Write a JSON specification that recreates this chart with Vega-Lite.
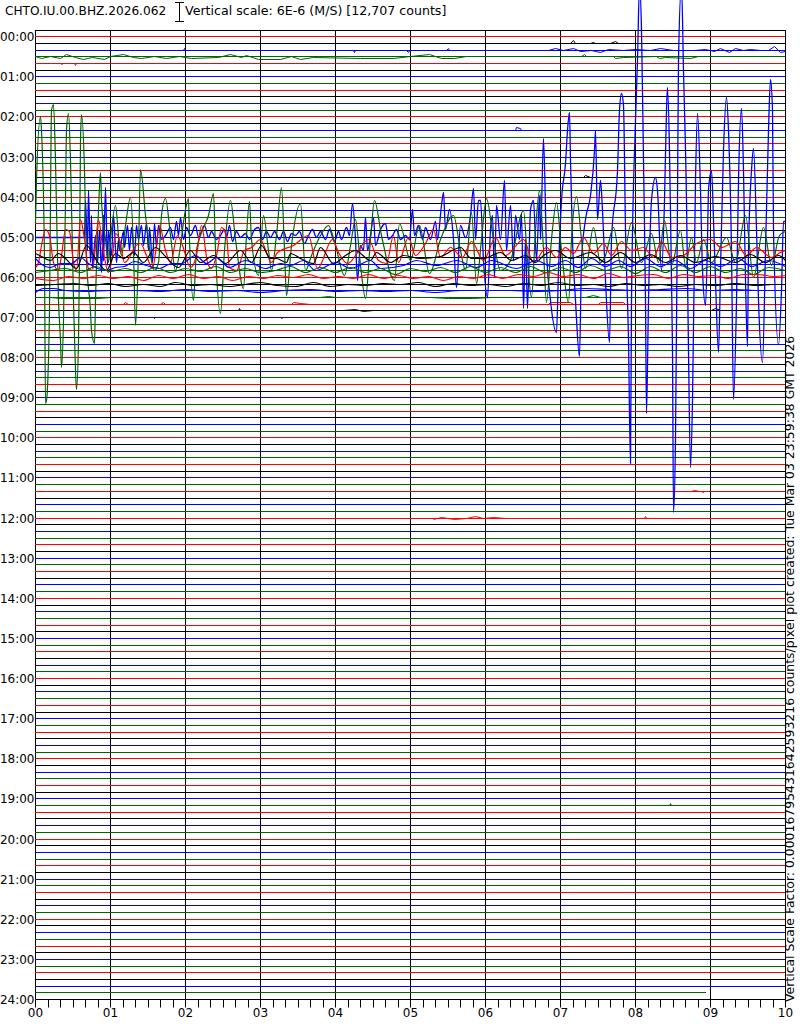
{"$schema":"https://vega.github.io/schema/vega-lite/v6.json","width":750,"height":969,"autosize":{"type":"none"},"padding":{"left":35,"top":30,"right":15,"bottom":25},"background":"white","config":{"view":{"stroke":"#000","strokeWidth":1},"font":"DejaVu Sans"},
"datasets":{
"minutes":[{"s":0},{"s":60},{"s":120},{"s":180},{"s":240},{"s":300},{"s":360},{"s":420},{"s":480},{"s":540},{"s":600}],
"rows":[{"m":0,"c":"red"},{"m":10,"c":"black"},{"m":20,"c":"blue"},{"m":30,"c":"green"},{"m":40,"c":"red"},{"m":50,"c":"black"},{"m":60,"c":"blue"},{"m":70,"c":"green"},{"m":80,"c":"red"},{"m":90,"c":"black"},{"m":100,"c":"blue"},{"m":110,"c":"green"},{"m":120,"c":"red"},{"m":130,"c":"black"},{"m":140,"c":"blue"},{"m":150,"c":"green"},{"m":160,"c":"red"},{"m":170,"c":"black"},{"m":180,"c":"blue"},{"m":190,"c":"green"},{"m":200,"c":"red"},{"m":210,"c":"black"},{"m":220,"c":"blue"},{"m":230,"c":"green"},{"m":240,"c":"red"},{"m":250,"c":"black"},{"m":260,"c":"blue"},{"m":270,"c":"green"},{"m":280,"c":"red"},{"m":290,"c":"black"},{"m":300,"c":"blue"},{"m":310,"c":"green"},{"m":320,"c":"red"},{"m":330,"c":"black"},{"m":340,"c":"blue"},{"m":350,"c":"green"},{"m":360,"c":"red"},{"m":370,"c":"black"},{"m":380,"c":"blue"},{"m":390,"c":"green"},{"m":400,"c":"red"},{"m":410,"c":"black"},{"m":420,"c":"blue"},{"m":430,"c":"green"},{"m":440,"c":"red"},{"m":450,"c":"black"},{"m":460,"c":"blue"},{"m":470,"c":"green"},{"m":480,"c":"red"},{"m":490,"c":"black"},{"m":500,"c":"blue"},{"m":510,"c":"green"},{"m":520,"c":"red"},{"m":530,"c":"black"},{"m":540,"c":"blue"},{"m":550,"c":"green"},{"m":560,"c":"red"},{"m":570,"c":"black"},{"m":580,"c":"blue"},{"m":590,"c":"green"},{"m":600,"c":"red"},{"m":610,"c":"black"},{"m":620,"c":"blue"},{"m":630,"c":"green"},{"m":640,"c":"red"},{"m":650,"c":"black"},{"m":660,"c":"blue"},{"m":670,"c":"green"},{"m":680,"c":"red"},{"m":690,"c":"black"},{"m":700,"c":"blue"},{"m":710,"c":"green"},{"m":720,"c":"red"},{"m":730,"c":"black"},{"m":740,"c":"blue"},{"m":750,"c":"green"},{"m":760,"c":"red"},{"m":770,"c":"black"},{"m":780,"c":"blue"},{"m":790,"c":"green"},{"m":800,"c":"red"},{"m":810,"c":"black"},{"m":820,"c":"blue"},{"m":830,"c":"green"},{"m":840,"c":"red"},{"m":850,"c":"black"},{"m":860,"c":"blue"},{"m":870,"c":"green"},{"m":880,"c":"red"},{"m":890,"c":"black"},{"m":900,"c":"blue"},{"m":910,"c":"green"},{"m":920,"c":"red"},{"m":930,"c":"black"},{"m":940,"c":"blue"},{"m":950,"c":"green"},{"m":960,"c":"red"},{"m":970,"c":"black"},{"m":980,"c":"blue"},{"m":990,"c":"green"},{"m":1000,"c":"red"},{"m":1010,"c":"black"},{"m":1020,"c":"blue"},{"m":1030,"c":"green"},{"m":1040,"c":"red"},{"m":1050,"c":"black"},{"m":1060,"c":"blue"},{"m":1070,"c":"green"},{"m":1080,"c":"red"},{"m":1090,"c":"black"},{"m":1100,"c":"blue"},{"m":1110,"c":"green"},{"m":1120,"c":"red"},{"m":1130,"c":"black"},{"m":1140,"c":"blue"},{"m":1150,"c":"green"},{"m":1160,"c":"red"},{"m":1170,"c":"black"},{"m":1180,"c":"blue"},{"m":1190,"c":"green"},{"m":1200,"c":"red"},{"m":1210,"c":"black"},{"m":1220,"c":"blue"},{"m":1230,"c":"green"},{"m":1240,"c":"red"},{"m":1250,"c":"black"},{"m":1260,"c":"blue"},{"m":1270,"c":"green"},{"m":1280,"c":"red"},{"m":1290,"c":"black"},{"m":1300,"c":"blue"},{"m":1310,"c":"green"},{"m":1320,"c":"red"},{"m":1330,"c":"black"},{"m":1340,"c":"blue"},{"m":1350,"c":"green"},{"m":1360,"c":"red"},{"m":1370,"c":"black"},{"m":1380,"c":"blue"},{"m":1390,"c":"green"},{"m":1400,"c":"red"},{"m":1410,"c":"black"},{"m":1420,"c":"blue"}],
"lastRow":[{"s":0,"e":537,"m":1430}],
"b300":[{"s":0,"m":300},{"s":38.8,"m":300},{"s":40.4,"m":245},{"s":41.2,"m":319},{"s":42,"m":230},{"s":43.6,"m":337},{"s":44.4,"m":267},{"s":46,"m":346},{"s":47.6,"m":297},{"s":49.2,"m":337},{"s":50.8,"m":290},{"s":52.4,"m":352},{"s":54,"m":267},{"s":54.8,"m":334},{"s":55.6,"m":225},{"s":57.2,"m":342},{"s":58.8,"m":290},{"s":60.4,"m":327},{"s":62,"m":267},{"s":64.4,"m":337},{"s":66,"m":304},{"s":67.6,"m":319},{"s":70,"m":292},{"s":71.6,"m":316},{"s":73.2,"m":283},{"s":74.8,"m":319},{"s":76.4,"m":286},{"s":78.8,"m":327},{"s":80.4,"m":282},{"s":82.8,"m":304},{"s":84.4,"m":282},{"s":86,"m":312},{"s":88.4,"m":280},{"s":90,"m":319},{"s":91.6,"m":286},{"s":93.2,"m":337},{"s":94.8,"m":280},{"s":96.4,"m":316},{"s":98,"m":283},{"s":100.4,"m":304},{"s":103.6,"m":297},{"s":107.6,"m":286},{"s":110,"m":304},{"s":112.4,"m":277},{"s":114,"m":297},{"s":115.6,"m":271},{"s":118,"m":304},{"s":120.4,"m":286},{"s":123.6,"m":297},{"s":127.6,"m":283},{"s":130,"m":301},{"s":132.4,"m":292},{"s":135.6,"m":282},{"s":138,"m":301},{"s":141.2,"m":292},{"s":144.4,"m":304},{"s":147.6,"m":298},{"s":150.8,"m":289},{"s":153.2,"m":301},{"s":155.6,"m":282},{"s":158,"m":307},{"s":160.4,"m":292},{"s":163.6,"m":301},{"s":167.6,"m":294},{"s":171.6,"m":304},{"s":174.8,"m":289},{"s":178,"m":286},{"s":181.2,"m":304},{"s":184.4,"m":292},{"s":187.6,"m":301},{"s":191.6,"m":292},{"s":194.8,"m":304},{"s":198,"m":292},{"s":201.2,"m":307},{"s":204.4,"m":294},{"s":207.6,"m":298},{"s":210.8,"m":292},{"s":214.8,"m":309},{"s":218,"m":298},{"s":221.2,"m":289},{"s":224.4,"m":301},{"s":227.6,"m":292},{"s":231.6,"m":304},{"s":234.8,"m":289},{"s":238.8,"m":307},{"s":242,"m":292},{"s":245.2,"m":304},{"s":248.4,"m":286},{"s":250.8,"m":297},{"s":253.2,"m":249},{"s":255.6,"m":304},{"s":257.2,"m":364},{"s":259.6,"m":312},{"s":262,"m":319},{"s":263.6,"m":270},{"s":265.2,"m":319},{"s":267.6,"m":297},{"s":270,"m":270},{"s":272.4,"m":312},{"s":275.6,"m":289},{"s":279.6,"m":280},{"s":282,"m":304},{"s":285.2,"m":297},{"s":288.4,"m":289},{"s":291.6,"m":304},{"s":295.6,"m":297},{"s":298.8,"m":304},{"s":301.2,"m":259},{"s":302.8,"m":297},{"s":306,"m":282},{"s":309.2,"m":304},{"s":312.4,"m":286},{"s":315.6,"m":304},{"s":319.6,"m":277},{"s":322,"m":304},{"s":324.4,"m":252},{"s":326,"m":233},{"s":327.6,"m":289},{"s":330.8,"m":259},{"s":334,"m":304},{"s":337.2,"m":375},{"s":339.6,"m":282},{"s":343.6,"m":301},{"s":347.6,"m":267},{"s":350,"m":227},{"s":351.6,"m":304},{"s":354,"m":245},{"s":355.6,"m":245},{"s":358,"m":334},{"s":361.2,"m":390},{"s":363.6,"m":289},{"s":365.2,"m":267},{"s":366.8,"m":360},{"s":369.2,"m":252},{"s":372,"m":304},{"s":374.8,"m":215},{"s":376.4,"m":319},{"s":379.6,"m":252},{"s":382,"m":334},{"s":384.4,"m":267},{"s":386.8,"m":304},{"s":389.2,"m":264},{"s":390,"m":406},{"s":391.6,"m":304},{"s":394,"m":406},{"s":396.4,"m":259},{"s":398,"m":245},{"s":400.4,"m":334},{"s":402.8,"m":237},{"s":404.4,"m":304},{"s":406,"m":152},{"s":408.4,"m":319},{"s":412.4,"m":394},{"s":417,"m":442},{"s":418.4,"m":349},{"s":421,"m":245},{"s":423.6,"m":189},{"s":425.2,"m":140},{"s":426.8,"m":113},{"s":427.6,"m":185},{"s":429.2,"m":304},{"s":431.6,"m":394},{"s":434.8,"m":479},{"s":436.4,"m":334},{"s":439.6,"m":274},{"s":443.6,"m":237},{"s":446.8,"m":170},{"s":447.6,"m":141},{"s":449.2,"m":274},{"s":451.6,"m":215},{"s":453.2,"m":260},{"s":455.6,"m":364},{"s":458.8,"m":457},{"s":460.4,"m":304},{"s":465.2,"m":200},{"s":466.8,"m":110},{"s":468.4,"m":85},{"s":470,"m":103},{"s":471.6,"m":289},{"s":474,"m":454},{"s":476,"m":638},{"s":477,"m":394},{"s":479.6,"m":125},{"s":481.2,"m":35},{"s":482.8,"m":-77},{"s":484.4,"m":-9},{"s":486,"m":185},{"s":487.6,"m":394},{"s":489,"m":563},{"s":490,"m":394},{"s":492.4,"m":245},{"s":495.6,"m":210},{"s":497.2,"m":230},{"s":500.4,"m":349},{"s":502.8,"m":245},{"s":504.4,"m":110},{"s":505.8,"m":76},{"s":506.8,"m":170},{"s":508.4,"m":364},{"s":509.2,"m":469},{"s":510.6,"m":712},{"s":511.6,"m":603},{"s":513.2,"m":245},{"s":514.8,"m":35},{"s":517,"m":-77},{"s":518.8,"m":50},{"s":520.4,"m":245},{"s":522,"m":469},{"s":524.2,"m":645},{"s":525.2,"m":544},{"s":527.6,"m":215},{"s":529.8,"m":115},{"s":531.6,"m":230},{"s":533.2,"m":349},{"s":535.6,"m":402},{"s":537.2,"m":304},{"s":538.8,"m":230},{"s":540.4,"m":200},{"s":542,"m":274},{"s":543.6,"m":364},{"s":546,"m":472},{"s":547.6,"m":349},{"s":550,"m":170},{"s":552.4,"m":91},{"s":554,"m":140},{"s":556.4,"m":319},{"s":558.8,"m":542},{"s":560.4,"m":394},{"s":562,"m":215},{"s":564.4,"m":107},{"s":566,"m":200},{"s":567.6,"m":364},{"s":569.2,"m":463},{"s":570.8,"m":319},{"s":572.4,"m":200},{"s":574,"m":167},{"s":576.4,"m":289},{"s":578.8,"m":394},{"s":581.2,"m":487},{"s":583.6,"m":319},{"s":586,"m":140},{"s":587.6,"m":64},{"s":589.2,"m":110},{"s":590.8,"m":289},{"s":594,"m":461},{"s":596.4,"m":379},{"s":598.8,"m":277},{"s":600,"m":277}],
"g310":[{"s":0,"m":279},{"s":1,"m":215},{"s":4,"m":119},{"s":4.6,"m":140},{"s":7,"m":334},{"s":8,"m":548},{"s":9,"m":544},{"s":11,"m":409},{"s":12,"m":245},{"s":13,"m":110},{"s":14,"m":101},{"s":16,"m":185},{"s":18,"m":394},{"s":20,"m":454},{"s":21,"m":494},{"s":22,"m":424},{"s":24,"m":245},{"s":25,"m":140},{"s":26,"m":115},{"s":28,"m":185},{"s":30,"m":394},{"s":32,"m":499},{"s":33,"m":527},{"s":34,"m":454},{"s":35,"m":334},{"s":36,"m":155},{"s":37,"m":116},{"s":39,"m":200},{"s":41,"m":334},{"s":44,"m":409},{"s":45,"m":439},{"s":47,"m":459},{"s":48,"m":394},{"s":50,"m":260},{"s":52,"m":203},{"s":53,"m":245},{"s":56,"m":304},{"s":58,"m":337},{"s":60,"m":304},{"s":64,"m":252},{"s":66,"m":297},{"s":69,"m":327},{"s":72,"m":282},{"s":76,"m":240},{"s":78,"m":319},{"s":80,"m":432},{"s":82,"m":319},{"s":84,"m":198},{"s":88,"m":267},{"s":92,"m":327},{"s":95,"m":349},{"s":98,"m":337},{"s":101,"m":267},{"s":104,"m":242},{"s":108,"m":297},{"s":112,"m":349},{"s":116,"m":312},{"s":119,"m":267},{"s":122,"m":242},{"s":123,"m":304},{"s":126,"m":394},{"s":129,"m":319},{"s":133,"m":293},{"s":138,"m":267},{"s":142,"m":234},{"s":144,"m":319},{"s":148,"m":414},{"s":151,"m":319},{"s":156,"m":245},{"s":160,"m":304},{"s":166,"m":376},{"s":169,"m":297},{"s":171,"m":247},{"s":173,"m":304},{"s":178,"m":357},{"s":182,"m":267},{"s":186,"m":319},{"s":189,"m":349},{"s":193,"m":297},{"s":197,"m":225},{"s":199,"m":319},{"s":201,"m":387},{"s":205,"m":312},{"s":212,"m":249},{"s":216,"m":349},{"s":221,"m":327},{"s":228,"m":297},{"s":234,"m":282},{"s":240,"m":312},{"s":247,"m":357},{"s":252,"m":312},{"s":256,"m":274},{"s":260,"m":342},{"s":264,"m":391},{"s":268,"m":304},{"s":271,"m":245},{"s":277,"m":297},{"s":287,"m":364},{"s":291,"m":279},{"s":300,"m":334},{"s":307,"m":282},{"s":315,"m":354},{"s":324,"m":304},{"s":334,"m":267},{"s":340,"m":319},{"s":344,"m":349},{"s":349,"m":263},{"s":353,"m":369},{"s":357,"m":304},{"s":361,"m":242},{"s":366,"m":304},{"s":372,"m":349},{"s":380,"m":334},{"s":390,"m":260},{"s":394,"m":334},{"s":397,"m":390},{"s":400,"m":290},{"s":403,"m":230},{"s":406,"m":319},{"s":409,"m":397},{"s":413,"m":304},{"s":417,"m":248},{"s":421,"m":319},{"s":426,"m":397},{"s":429,"m":304},{"s":433,"m":239},{"s":437,"m":304},{"s":440,"m":346},{"s":446,"m":285},{"s":452,"m":337},{"s":456,"m":327},{"s":462,"m":285},{"s":469,"m":346},{"s":477,"m":278},{"s":485,"m":337},{"s":493,"m":294},{"s":498,"m":337},{"s":503,"m":275},{"s":509,"m":342},{"s":516,"m":290},{"s":520,"m":342},{"s":525,"m":300},{"s":529,"m":337},{"s":534,"m":303},{"s":541,"m":337},{"s":553,"m":300},{"s":560,"m":337},{"s":568,"m":267},{"s":574,"m":360},{"s":582,"m":285},{"s":589,"m":342},{"s":595,"m":297},{"s":600,"m":292}],
"r320":[{"s":0,"m":345},{"s":2,"m":337},{"s":4.4,"m":312},{"s":7.6,"m":289},{"s":10.8,"m":297},{"s":14,"m":337},{"s":18,"m":349},{"s":21,"m":327},{"s":23.6,"m":289},{"s":26.8,"m":292},{"s":30,"m":337},{"s":32.4,"m":349},{"s":35.6,"m":274},{"s":38.8,"m":304},{"s":42,"m":346},{"s":45.2,"m":349},{"s":50,"m":274},{"s":53.2,"m":312},{"s":58,"m":352},{"s":61.2,"m":327},{"s":63.6,"m":294},{"s":66.8,"m":304},{"s":70.8,"m":337},{"s":75.6,"m":327},{"s":79.6,"m":316},{"s":83.6,"m":309},{"s":88.4,"m":327},{"s":93.2,"m":346},{"s":96.4,"m":312},{"s":99.6,"m":282},{"s":103.6,"m":319},{"s":107.6,"m":337},{"s":113.2,"m":297},{"s":117.2,"m":312},{"s":123.6,"m":345},{"s":128.4,"m":327},{"s":133.2,"m":282},{"s":137.2,"m":337},{"s":141.2,"m":346},{"s":145.2,"m":319},{"s":149.2,"m":285},{"s":152.4,"m":297},{"s":155.6,"m":345},{"s":160.4,"m":349},{"s":166.8,"m":319},{"s":173.2,"m":316},{"s":179.6,"m":304},{"s":184.4,"m":322},{"s":189.2,"m":337},{"s":194,"m":322},{"s":206,"m":312},{"s":218,"m":297},{"s":225.2,"m":346},{"s":237.2,"m":304},{"s":242,"m":322},{"s":249.2,"m":339},{"s":266,"m":304},{"s":274,"m":334},{"s":281.2,"m":339},{"s":286,"m":297},{"s":290,"m":337},{"s":298,"m":300},{"s":303.6,"m":327},{"s":311.6,"m":309},{"s":318,"m":289},{"s":323.6,"m":330},{"s":331.6,"m":315},{"s":341.2,"m":330},{"s":349.2,"m":307},{"s":358,"m":334},{"s":367.6,"m":300},{"s":375.6,"m":327},{"s":390,"m":304},{"s":398,"m":337},{"s":409,"m":316},{"s":417,"m":330},{"s":423.6,"m":315},{"s":430,"m":324},{"s":438,"m":301},{"s":446,"m":324},{"s":454,"m":309},{"s":461,"m":327},{"s":469,"m":307},{"s":477,"m":319},{"s":486,"m":315},{"s":494,"m":330},{"s":501,"m":307},{"s":509,"m":330},{"s":518,"m":327},{"s":529,"m":309},{"s":540,"m":303},{"s":549,"m":316},{"s":560,"m":307},{"s":569,"m":327},{"s":577,"m":315},{"s":589,"m":330},{"s":596,"m":322},{"s":600,"m":319}],
"k330":[{"s":0,"m":324},{"s":5,"m":328},{"s":11.6,"m":334},{"s":18,"m":324},{"s":24.4,"m":331},{"s":33,"m":346},{"s":41,"m":312},{"s":49,"m":334},{"s":57,"m":349},{"s":64,"m":324},{"s":70,"m":331},{"s":78,"m":322},{"s":86,"m":337},{"s":96,"m":316},{"s":104,"m":328},{"s":114,"m":345},{"s":124,"m":319},{"s":132,"m":337},{"s":142,"m":327},{"s":152,"m":339},{"s":164,"m":319},{"s":173,"m":337},{"s":181,"m":312},{"s":188,"m":331},{"s":193,"m":331},{"s":201,"m":337},{"s":204,"m":324},{"s":212,"m":331},{"s":222,"m":339},{"s":228,"m":316},{"s":238,"m":339},{"s":248,"m":327},{"s":256,"m":319},{"s":268,"m":334},{"s":273,"m":322},{"s":284,"m":337},{"s":294,"m":327},{"s":308,"m":331},{"s":324,"m":328},{"s":340,"m":316},{"s":349,"m":331},{"s":358,"m":331},{"s":372,"m":322},{"s":381,"m":334},{"s":392,"m":327},{"s":400,"m":337},{"s":406,"m":327},{"s":416,"m":319},{"s":428,"m":331},{"s":444,"m":322},{"s":456,"m":337},{"s":468,"m":322},{"s":480,"m":337},{"s":492,"m":325},{"s":504,"m":337},{"s":516,"m":327},{"s":528,"m":337},{"s":544,"m":328},{"s":560,"m":337},{"s":572,"m":325},{"s":584,"m":337},{"s":594,"m":327},{"s":600,"m":334}],
"b340":[{"s":0,"m":331},{"s":3.6,"m":339},{"s":11.6,"m":345},{"s":19.6,"m":339},{"s":29,"m":339},{"s":35.6,"m":330},{"s":42,"m":339},{"s":57,"m":349},{"s":64,"m":345},{"s":71.6,"m":343},{"s":79.6,"m":336},{"s":89,"m":342},{"s":99.6,"m":346},{"s":109,"m":339},{"s":117,"m":339},{"s":127.6,"m":327},{"s":137,"m":339},{"s":145,"m":330},{"s":155.6,"m":345},{"s":167.6,"m":334},{"s":183.6,"m":346},{"s":195.6,"m":339},{"s":204,"m":342},{"s":214,"m":334},{"s":223.6,"m":349},{"s":241,"m":337},{"s":252,"m":346},{"s":268,"m":334},{"s":276,"m":346},{"s":294,"m":342},{"s":305,"m":334},{"s":321,"m":342},{"s":337,"m":334},{"s":353,"m":345},{"s":365,"m":334},{"s":385,"m":346},{"s":401,"m":334},{"s":413,"m":343},{"s":424,"m":334},{"s":434,"m":345},{"s":445,"m":331},{"s":456,"m":343},{"s":466,"m":334},{"s":476,"m":343},{"s":488,"m":331},{"s":500,"m":343},{"s":512,"m":334},{"s":524,"m":346},{"s":536,"m":334},{"s":548,"m":343},{"s":562,"m":331},{"s":573,"m":343},{"s":586,"m":334},{"s":600,"m":343}],
"g350":[{"s":0,"m":352},{"s":12,"m":349},{"s":24,"m":346},{"s":36,"m":352},{"s":48,"m":344},{"s":60,"m":351},{"s":72,"m":347},{"s":84,"m":352},{"s":96,"m":345},{"s":108,"m":352},{"s":120,"m":346},{"s":132,"m":351},{"s":144,"m":344},{"s":156,"m":352},{"s":168,"m":346},{"s":180,"m":352},{"s":192,"m":350},{"s":204,"m":343},{"s":216,"m":352},{"s":228,"m":345},{"s":240,"m":353},{"s":252,"m":345},{"s":264,"m":352},{"s":276,"m":346},{"s":288,"m":355},{"s":300,"m":346},{"s":312,"m":351},{"s":324,"m":345},{"s":336,"m":352},{"s":348,"m":344},{"s":360,"m":353},{"s":372,"m":345},{"s":384,"m":352},{"s":396,"m":344},{"s":408,"m":352},{"s":420,"m":345},{"s":432,"m":353},{"s":444,"m":342},{"s":456,"m":350},{"s":468,"m":344},{"s":480,"m":354},{"s":492,"m":344},{"s":504,"m":353},{"s":516,"m":342},{"s":528,"m":353},{"s":540,"m":343},{"s":552,"m":352},{"s":564,"m":346},{"s":574,"m":356},{"s":586,"m":345},{"s":600,"m":350}],
"r360":[{"s":0,"m":362},{"s":14,"m":364},{"s":26,"m":358},{"s":38,"m":361},{"s":50,"m":357},{"s":62,"m":362},{"s":74,"m":359},{"s":86,"m":364},{"s":98,"m":357},{"s":110,"m":362},{"s":122,"m":356},{"s":134,"m":361},{"s":146,"m":358},{"s":158,"m":364},{"s":170,"m":359},{"s":182,"m":362},{"s":194,"m":357},{"s":206,"m":360},{"s":218,"m":356},{"s":230,"m":362},{"s":242,"m":358},{"s":254,"m":362},{"s":266,"m":356},{"s":278,"m":361},{"s":290,"m":357},{"s":302,"m":362},{"s":314,"m":358},{"s":326,"m":364},{"s":338,"m":358},{"s":350,"m":362},{"s":362,"m":356},{"s":374,"m":361},{"s":386,"m":355},{"s":398,"m":359},{"s":410,"m":353},{"s":422,"m":358},{"s":434,"m":356},{"s":446,"m":362},{"s":458,"m":354},{"s":470,"m":360},{"s":482,"m":357},{"s":494,"m":355},{"s":506,"m":361},{"s":518,"m":356},{"s":530,"m":359},{"s":542,"m":357},{"s":554,"m":361},{"s":566,"m":356},{"s":578,"m":355},{"s":590,"m":359},{"s":600,"m":357}],
"k370":[{"s":0,"m":372},{"s":16,"m":371},{"s":30,"m":369},{"s":44,"m":372},{"s":58,"m":369},{"s":72,"m":373},{"s":86,"m":370},{"s":100,"m":373},{"s":112,"m":368},{"s":126,"m":372},{"s":140,"m":370},{"s":154,"m":374},{"s":168,"m":371},{"s":180,"m":368},{"s":194,"m":372},{"s":208,"m":374},{"s":222,"m":368},{"s":236,"m":373},{"s":250,"m":370},{"s":264,"m":372},{"s":278,"m":369},{"s":292,"m":371},{"s":306,"m":368},{"s":320,"m":373},{"s":334,"m":369},{"s":348,"m":372},{"s":362,"m":370},{"s":376,"m":373},{"s":390,"m":369},{"s":404,"m":372},{"s":418,"m":367},{"s":432,"m":372},{"s":446,"m":370},{"s":458,"m":374},{"s":472,"m":369},{"s":486,"m":372},{"s":500,"m":370},{"s":514,"m":373},{"s":528,"m":370},{"s":544,"m":372},{"s":560,"m":369},{"s":576,"m":372},{"s":590,"m":370},{"s":600,"m":371}],
"b380":[{"s":0,"m":382},{"s":6,"m":377},{"s":14,"m":376},{"s":24,"m":379},{"s":40,"m":381},{"s":60,"m":379},{"s":80,"m":380},{"s":100,"m":381},{"s":120,"m":378},{"s":140,"m":381},{"s":160,"m":380},{"s":180,"m":382},{"s":200,"m":380},{"s":220,"m":378},{"s":240,"m":381},{"s":260,"m":379},{"s":280,"m":381},{"s":300,"m":379},{"s":320,"m":382},{"s":340,"m":379},{"s":360,"m":380},{"s":380,"m":379},{"s":400,"m":381},{"s":420,"m":379},{"s":440,"m":377},{"s":460,"m":378},{"s":480,"m":379},{"s":500,"m":378},{"s":520,"m":377},{"s":540,"m":380},{"s":560,"m":378},{"s":580,"m":379},{"s":600,"m":379}],
"minor":[{"r":30,"c":"green","s":0,"m":30},{"r":30,"c":"green","s":5,"m":33},{"r":30,"c":"green","s":12,"m":30},{"r":30,"c":"green","s":20,"m":33},{"r":30,"c":"green","s":25,"m":27},{"r":30,"c":"green","s":32,"m":31},{"r":30,"c":"green","s":38,"m":34},{"r":30,"c":"green","s":46,"m":31},{"r":30,"c":"green","s":55,"m":34},{"r":30,"c":"green","s":60,"m":30},{"r":30,"c":"green","s":70,"m":26},{"r":30,"c":"green","s":78,"m":31},{"r":30,"c":"green","s":85,"m":32},{"r":30,"c":"green","s":95,"m":29},{"r":30,"c":"green","s":105,"m":32},{"r":30,"c":"green","s":115,"m":30},{"r":30,"c":"green","s":125,"m":32},{"r":30,"c":"green","s":146,"m":31},{"r":30,"c":"green","s":156,"m":27},{"r":30,"c":"green","s":165,"m":31},{"r":30,"c":"green","s":169,"m":28},{"r":30,"c":"green","s":178,"m":34},{"r":30,"c":"green","s":196,"m":34},{"r":30,"c":"green","s":205,"m":30},{"r":30,"c":"green","s":212,"m":34},{"r":30,"c":"green","s":222,"m":31},{"r":30,"c":"green","s":260,"m":32},{"r":30,"c":"green","s":286,"m":33},{"r":30,"c":"green","s":300,"m":30},{"r":30,"c":"green","s":315,"m":27},{"r":30,"c":"green","s":325,"m":32},{"r":30,"c":"green","s":335,"m":33},{"r":30,"c":"green","s":345,"m":30},{"r":30,"c":"green","s":437,"m":30},{"r":30,"c":"green","s":439,"m":27},{"r":30,"c":"green","s":441,"m":30},{"r":30,"c":"green","s":462,"m":30},{"r":30,"c":"green","s":464,"m":33},{"r":30,"c":"green","s":470,"m":31},{"r":30,"c":"green","s":497,"m":30},{"r":30,"c":"green","s":499,"m":33},{"r":30,"c":"green","s":504,"m":31},{"r":30,"c":"green","s":524,"m":33},{"r":30,"c":"green","s":530,"m":30},{"r":30,"c":"green","s":600,"m":30},
{"r":20,"c":"blue","s":118,"m":20},{"r":20,"c":"blue","s":119,"m":17},{"r":20,"c":"blue","s":120,"m":20},{"r":20,"c":"blue","s":254,"m":20},{"r":20,"c":"blue","s":255,"m":23},{"r":20,"c":"blue","s":256,"m":20},{"r":20,"c":"blue","s":297,"m":20},{"r":20,"c":"blue","s":298,"m":23},{"r":20,"c":"blue","s":299,"m":20},{"r":20,"c":"blue","s":329,"m":20},{"r":20,"c":"blue","s":330,"m":18},{"r":20,"c":"blue","s":331,"m":20},{"r":20,"c":"blue","s":410,"m":20},{"r":20,"c":"blue","s":416,"m":18},{"r":20,"c":"blue","s":422,"m":20},{"r":20,"c":"blue","s":430,"m":18},{"r":20,"c":"blue","s":436,"m":22},{"r":20,"c":"blue","s":445,"m":20},{"r":20,"c":"blue","s":452,"m":24},{"r":20,"c":"blue","s":458,"m":19},{"r":20,"c":"blue","s":470,"m":20},{"r":20,"c":"blue","s":480,"m":19},{"r":20,"c":"blue","s":492,"m":20},{"r":20,"c":"blue","s":500,"m":18},{"r":20,"c":"blue","s":510,"m":20},{"r":20,"c":"blue","s":527,"m":21},{"r":20,"c":"blue","s":536,"m":19},{"r":20,"c":"blue","s":543,"m":22},{"r":20,"c":"blue","s":548,"m":18},{"r":20,"c":"blue","s":555,"m":24},{"r":20,"c":"blue","s":560,"m":17},{"r":20,"c":"blue","s":566,"m":21},{"r":20,"c":"blue","s":572,"m":19},{"r":20,"c":"blue","s":580,"m":21},{"r":20,"c":"blue","s":586,"m":20},{"r":20,"c":"blue","s":591,"m":15},{"r":20,"c":"blue","s":596,"m":24},{"r":20,"c":"blue","s":600,"m":22},
{"r":10,"c":"black","s":428,"m":10},{"r":10,"c":"black","s":430,"m":6},{"r":10,"c":"black","s":432,"m":10},{"r":10,"c":"black","s":444,"m":10},{"r":10,"c":"black","s":446,"m":8},{"r":10,"c":"black","s":448,"m":10},{"r":10,"c":"black","s":460,"m":10},{"r":10,"c":"black","s":464,"m":7},{"r":10,"c":"black","s":466,"m":10},
{"r":40,"c":"red","s":20,"m":40},{"r":40,"c":"red","s":21,"m":42},{"r":40,"c":"red","s":22,"m":40},{"r":40,"c":"red","s":31,"m":40},{"r":40,"c":"red","s":32,"m":43},{"r":40,"c":"red","s":33,"m":40},
{"r":140,"c":"blue","s":384,"m":140},{"r":140,"c":"blue","s":385,"m":136},{"r":140,"c":"blue","s":388,"m":138},{"r":140,"c":"blue","s":389,"m":140},
{"r":210,"c":"black","s":438,"m":210},{"r":210,"c":"black","s":440,"m":207},{"r":210,"c":"black","s":444,"m":210},
{"r":720,"c":"red","s":318,"m":722},{"r":720,"c":"red","s":325,"m":719},{"r":720,"c":"red","s":335,"m":722},{"r":720,"c":"red","s":345,"m":720},{"r":720,"c":"red","s":352,"m":717},{"r":720,"c":"red","s":358,"m":721},{"r":720,"c":"red","s":366,"m":719},{"r":720,"c":"red","s":376,"m":721},{"r":720,"c":"red","s":384,"m":720},
{"r":721,"c":"red","s":487,"m":720},{"r":721,"c":"red","s":488,"m":717},{"r":721,"c":"red","s":489,"m":720},
{"r":680,"c":"red","s":525,"m":680},{"r":680,"c":"red","s":527,"m":678},{"r":680,"c":"red","s":531,"m":680},{"r":680,"c":"red","s":533,"m":680},{"r":680,"c":"red","s":534,"m":682},{"r":680,"c":"red","s":535,"m":680},
{"r":1150,"c":"green","s":507,"m":1150},{"r":1150,"c":"green","s":508,"m":1147},{"r":1150,"c":"green","s":509,"m":1150},
{"r":390,"c":"green","s":12,"m":390},{"r":390,"c":"green","s":20,"m":392},{"r":390,"c":"green","s":50,"m":392},{"r":390,"c":"green","s":60,"m":390},{"r":390,"c":"green","s":228,"m":390},{"r":390,"c":"green","s":234,"m":388},{"r":390,"c":"green","s":240,"m":390},{"r":390,"c":"green","s":316,"m":390},{"r":390,"c":"green","s":330,"m":392},{"r":390,"c":"green","s":350,"m":392},{"r":390,"c":"green","s":365,"m":390},{"r":390,"c":"green","s":440,"m":390},{"r":390,"c":"green","s":446,"m":387},{"r":390,"c":"green","s":452,"m":390},
{"r":400,"c":"red","s":70,"m":400},{"r":400,"c":"red","s":72,"m":398},{"r":400,"c":"red","s":74,"m":400},{"r":400,"c":"red","s":100,"m":400},{"r":400,"c":"red","s":102,"m":398},{"r":400,"c":"red","s":104,"m":400},{"r":400,"c":"red","s":205,"m":400},{"r":400,"c":"red","s":206,"m":397},{"r":400,"c":"red","s":212,"m":399},{"r":400,"c":"red","s":220,"m":400},{"r":400,"c":"red","s":410,"m":400},{"r":400,"c":"red","s":412,"m":398},{"r":400,"c":"red","s":428,"m":398},{"r":400,"c":"red","s":430,"m":400},{"r":400,"c":"red","s":450,"m":400},{"r":400,"c":"red","s":452,"m":397},{"r":400,"c":"red","s":470,"m":397},{"r":400,"c":"red","s":472,"m":400},
{"r":410,"c":"black","s":162,"m":410},{"r":410,"c":"black","s":163,"m":407},{"r":410,"c":"black","s":164,"m":410},{"r":410,"c":"black","s":246,"m":410},{"r":410,"c":"black","s":256,"m":408},{"r":410,"c":"black","s":262,"m":411},{"r":410,"c":"black","s":270,"m":410},{"r":410,"c":"black","s":541,"m":410},{"r":410,"c":"black","s":544,"m":407},{"r":410,"c":"black","s":548,"m":410},
{"r":420,"c":"blue","s":94,"m":420},{"r":420,"c":"blue","s":95,"m":422},{"r":420,"c":"blue","s":96,"m":420},{"r":420,"c":"blue","s":196,"m":420},{"r":420,"c":"blue","s":197,"m":422},{"r":420,"c":"blue","s":198,"m":420}],
"note1":[{"s":-23.6,"m":-38,"t":"CHTO.IU.00.BHZ.2026.062"}],
"note2":[{"s":119.6,"m":-38,"t":"Vertical scale: 6E-6 (M/S) [12,707 counts]"}],
"side":[{"s":604.4,"m":1445,"t":"Vertical Scale Factor: 0.00016795431642593216 counts/pixel plot created: Tue Mar 03 23:59:38 GMT 2026"}],
"barV":[{"s":115.4,"m":-51,"m2":-23}],
"barH":[{"s":112.2,"s2":118.8,"m":-51},{"s":112.2,"s2":118.8,"m":-23}]
},
"layer":[
{"data":{"name":"minutes"},"mark":{"type":"rule","color":"#000","strokeWidth":1,"xOffset":0.5},"encoding":{"x":{"field":"s","type":"quantitative","scale":{"domain":[0,600],"nice":false,"zero":false,"round":true},"axis":{"values":[0,10,20,30,40,50,60,70,80,90,100,110,120,130,140,150,160,170,180,190,200,210,220,230,240,250,260,270,280,290,300,310,320,330,340,350,360,370,380,390,400,410,420,430,440,450,460,470,480,490,500,510,520,530,540,550,560,570,580,590,600],"tickCount":100,"labelExpr":"datum.value%60==0 ? (datum.value<600?'0':'')+datum.value/60 : ''","labelOverlap":false,"labelFlush":false,"labelBound":false,"title":null,"tickSize":8,"tickColor":"#000","tickWidth":1,"domain":false,"grid":false,"labelFont":"DejaVu Sans","labelFontSize":12,"labelColor":"#000","labelPadding":0}}}},
{"data":{"name":"rows"},"mark":{"type":"rule","strokeWidth":1,"yOffset":0.5},"encoding":{"y":{"field":"m","type":"quantitative","scale":{"domain":[-9.3,1440],"reverse":true,"nice":false,"zero":false,"round":true},"axis":{"values":[0,60,120,180,240,300,360,420,480,540,600,660,720,780,840,900,960,1020,1080,1140,1200,1260,1320,1380,1440],"tickCount":100,"labelExpr":"(datum.value<600?'0':'')+datum.value/60+':00'","labelOverlap":false,"labelFlush":false,"labelBound":false,"title":null,"ticks":false,"domain":false,"grid":false,"labelFont":"DejaVu Sans","labelFontSize":12,"labelColor":"#000","labelPadding":1}},"color":{"field":"c","type":"nominal","scale":{"domain":["red","black","blue","green"],"range":["#ff0000","#000000","#0000ff","#006400"]},"legend":null}}},
{"data":{"name":"lastRow"},"mark":{"type":"rule","color":"#006400","strokeWidth":1,"yOffset":0.5},"encoding":{"x":{"field":"s","type":"quantitative"},"x2":{"field":"e"},"y":{"field":"m","type":"quantitative"}}},
{"data":{"name":"minor"},"mark":{"type":"line","strokeWidth":1,"clip":false,"xOffset":0.5,"yOffset":0.5},"encoding":{"x":{"field":"s","type":"quantitative"},"y":{"field":"m","type":"quantitative"},"detail":{"field":"r","type":"nominal"},"color":{"field":"c","type":"nominal"}}},
{"data":{"name":"b300"},"mark":{"type":"line","color":"#0000ff","strokeWidth":1.3,"clip":false,"interpolate":"monotone","xOffset":0.5,"yOffset":0.5},"encoding":{"x":{"field":"s","type":"quantitative"},"y":{"field":"m","type":"quantitative"}}},
{"data":{"name":"g310"},"mark":{"type":"line","color":"#006400","strokeWidth":1.2,"clip":false,"interpolate":"monotone","xOffset":0.5,"yOffset":0.5},"encoding":{"x":{"field":"s","type":"quantitative"},"y":{"field":"m","type":"quantitative"}}},
{"data":{"name":"r320"},"mark":{"type":"line","color":"#ff0000","strokeWidth":1.2,"clip":false,"interpolate":"monotone","xOffset":0.5,"yOffset":0.5},"encoding":{"x":{"field":"s","type":"quantitative"},"y":{"field":"m","type":"quantitative"}}},
{"data":{"name":"k330"},"mark":{"type":"line","color":"#000000","strokeWidth":1.2,"clip":false,"interpolate":"monotone","xOffset":0.5,"yOffset":0.5},"encoding":{"x":{"field":"s","type":"quantitative"},"y":{"field":"m","type":"quantitative"}}},
{"data":{"name":"b340"},"mark":{"type":"line","color":"#0000ff","strokeWidth":1.2,"clip":false,"interpolate":"monotone","xOffset":0.5,"yOffset":0.5},"encoding":{"x":{"field":"s","type":"quantitative"},"y":{"field":"m","type":"quantitative"}}},
{"data":{"name":"g350"},"mark":{"type":"line","color":"#006400","strokeWidth":1.2,"clip":false,"interpolate":"monotone","xOffset":0.5,"yOffset":0.5},"encoding":{"x":{"field":"s","type":"quantitative"},"y":{"field":"m","type":"quantitative"}}},
{"data":{"name":"r360"},"mark":{"type":"line","color":"#ff0000","strokeWidth":1.2,"clip":false,"interpolate":"monotone","xOffset":0.5,"yOffset":0.5},"encoding":{"x":{"field":"s","type":"quantitative"},"y":{"field":"m","type":"quantitative"}}},
{"data":{"name":"k370"},"mark":{"type":"line","color":"#000000","strokeWidth":1.2,"clip":false,"interpolate":"monotone","xOffset":0.5,"yOffset":0.5},"encoding":{"x":{"field":"s","type":"quantitative"},"y":{"field":"m","type":"quantitative"}}},
{"data":{"name":"b380"},"mark":{"type":"line","color":"#0000ff","strokeWidth":1.2,"clip":false,"interpolate":"monotone","xOffset":0.5,"yOffset":0.5},"encoding":{"x":{"field":"s","type":"quantitative"},"y":{"field":"m","type":"quantitative"}}},
{"data":{"name":"barV"},"mark":{"type":"rule","color":"#000","strokeWidth":1,"clip":false,"xOffset":0.5},"encoding":{"x":{"field":"s","type":"quantitative"},"y":{"field":"m","type":"quantitative"},"y2":{"field":"m2"}}},
{"data":{"name":"barH"},"mark":{"type":"rule","color":"#000","strokeWidth":1,"clip":false,"yOffset":0.5},"encoding":{"x":{"field":"s","type":"quantitative"},"x2":{"field":"s2"},"y":{"field":"m","type":"quantitative"}}},
{"data":{"name":"note1"},"mark":{"type":"text","align":"left","baseline":"middle","font":"DejaVu Sans","fontSize":12.15,"color":"#000","clip":false},"encoding":{"x":{"field":"s","type":"quantitative"},"y":{"field":"m","type":"quantitative"},"text":{"field":"t","type":"nominal"}}},
{"data":{"name":"note2"},"mark":{"type":"text","align":"left","baseline":"middle","font":"DejaVu Sans","fontSize":12.6,"color":"#000","clip":false},"encoding":{"x":{"field":"s","type":"quantitative"},"y":{"field":"m","type":"quantitative"},"text":{"field":"t","type":"nominal"}}},
{"data":{"name":"side"},"mark":{"type":"text","align":"left","baseline":"middle","angle":270,"font":"DejaVu Sans","fontSize":12.45,"color":"#000","clip":false},"encoding":{"x":{"field":"s","type":"quantitative"},"y":{"field":"m","type":"quantitative"},"text":{"field":"t","type":"nominal"}}}
]}
